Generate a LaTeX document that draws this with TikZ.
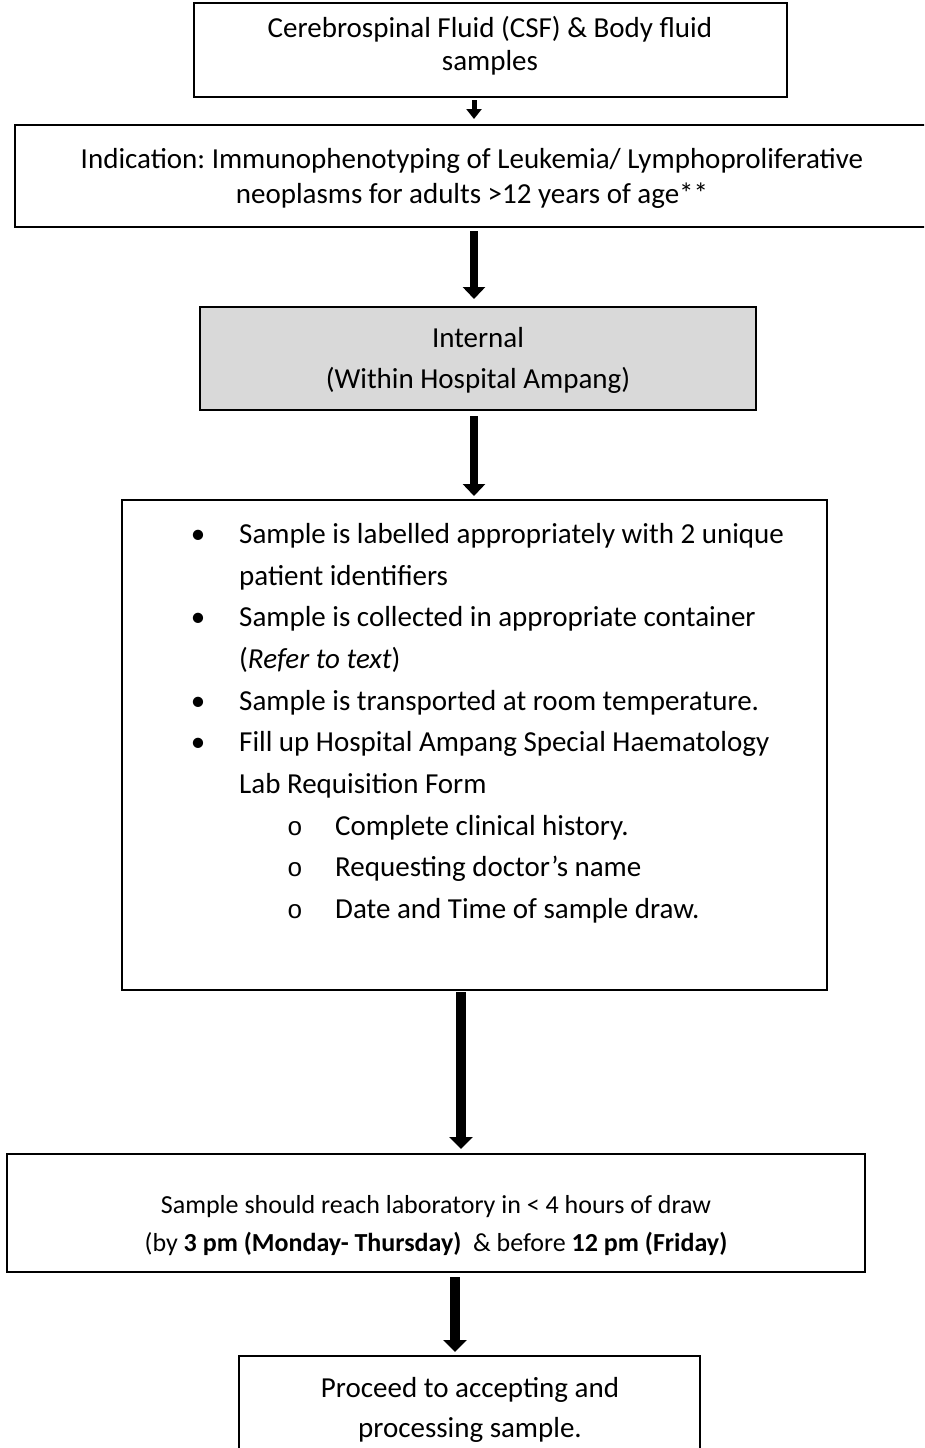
\documentclass[tikz,border=0pt]{standalone}
\usepackage{fontspec}
\setmainfont{Carlito}
\newfontfamily\monof{Liberation Mono}
\usetikzlibrary{arrows.meta}
\definecolor{boxgray}{HTML}{D9D9D9}
\frenchspacing
\begin{document}
\begin{tikzpicture}[x=1pt,y=-1pt,
  box/.style={draw=black, line width=2pt, inner sep=0pt, fill=white},
  txt/.style={font=\fontsize{29}{41}\selectfont, inner sep=0pt, anchor=base},
  ltxt/.style={txt, anchor=base west},
  stxt/.style={font=\fontsize{26}{38}\selectfont, inner sep=0pt, anchor=base},
  otxt/.style={txt, font=\monof\fontsize{26}{30}\selectfont},
  arrA/.style={line width=5pt, -{Triangle[length=10pt,width=15pt]}},
  arrB/.style={line width=8pt, -{Triangle[length=12pt,width=22pt]}},
  arrC/.style={line width=10pt, -{Triangle[length=12pt,width=23pt]}},
]
\useasboundingbox (0,0) rectangle (924,1448);
\fill[white] (0,0) rectangle (924,1448);
\clip (0,0) rectangle (924,1448);

% boxes
\node[box, minimum width=593pt, minimum height=94pt] (b1) at (490.5,50) {};
\node[box, minimum width=920pt, minimum height=102pt] (b2) at (475,176) {};
\node[box, fill=boxgray, minimum width=556pt, minimum height=103pt] (b3) at (478,358.5) {};
\node[box, minimum width=705pt, minimum height=490pt] (b4) at (474.5,745) {};
\node[box, minimum width=858pt, minimum height=118pt] (b5) at (436,1213) {};
\node[box, minimum width=461pt, minimum height=114pt] (b6) at (469.5,1413) {};

% texts
\node[txt] (t1a) at (490,37) {Cerebrospinal Fluid (CSF) \& Body fluid};
\node[txt] (t1b) at (490,70) {samples};
\node[txt] (t2a) at (472,168) {Indication: Immunophenotyping of Leukemia/ Lymphoproliferative};
\node[txt] (t2b) at (472,203) {neoplasms for adults >12 years of age**};
\node[txt] (t3a) at (478,347) {Internal};
\node[txt] (t3b) at (478,388) {(Within Hospital Ampang)};

\node[txt] (u1) at (198,543) {\textbullet};
\node[ltxt] (l1) at (239,543) {Sample is labelled appropriately with 2 unique};
\node[ltxt] (l2) at (239,585) {patient identifiers};
\node[txt] (u2) at (198,626) {\textbullet};
\node[ltxt] (l3) at (239,626) {Sample is collected in appropriate container};
\node[ltxt] (l4) at (239,668) {(\textit{Refer to text})};
\node[txt] (u3) at (198,710) {\textbullet};
\node[ltxt] (l5) at (239,710) {Sample is transported at room temperature.};
\node[txt] (u4) at (198,751) {\textbullet};
\node[ltxt] (l6) at (239,751) {Fill up Hospital Ampang Special Haematology};
\node[ltxt] (l7) at (239,793) {Lab Requisition Form};
\node[otxt] (s1) at (295,835) {o};
\node[ltxt] (l8) at (335,835) {Complete clinical history.};
\node[otxt] (s2) at (295,876) {o};
\node[ltxt] (l9) at (335,876) {Requesting doctor’s name};
\node[otxt] (s3) at (295,918) {o};
\node[ltxt] (l10) at (335,918) {Date and Time of sample draw.};

\node[stxt] (t5a) at (436,1213) {Sample should reach laboratory in < 4 hours of draw};
\node[stxt] (t5b) at (436,1251) {(by \textbf{3 pm (Monday- Thursday)}\ \ \& before \textbf{12 pm (Friday)}};
\node[txt] (t6a) at (470,1397) {Proceed to accepting and};
\node[txt] (t6b) at (470,1437) {processing sample.};

% arrow axes
\coordinate (ax1) at (474,0);
\coordinate (ax4) at (461,0);
\coordinate (ax5) at (455,0);

\draw[arrA, shorten <=2pt, shorten >=5pt] (b1.south -| ax1) -- (b2.north -| ax1);
\draw[arrB, shorten <=3pt, shorten >=7pt] (b2.south -| ax1) -- (b3.north -| ax1);
\draw[arrB, shorten <=5pt, shorten >=3pt] (b3.south -| ax1) -- (b4.north -| ax1);
\draw[arrC, shorten <=1pt, shorten >=4pt] (b4.south -| ax4) -- (b5.north -| ax4);
\draw[arrC, shorten <=4pt, shorten >=3pt] (b5.south -| ax5) -- (b6.north -| ax5);
\end{tikzpicture}
\end{document}
